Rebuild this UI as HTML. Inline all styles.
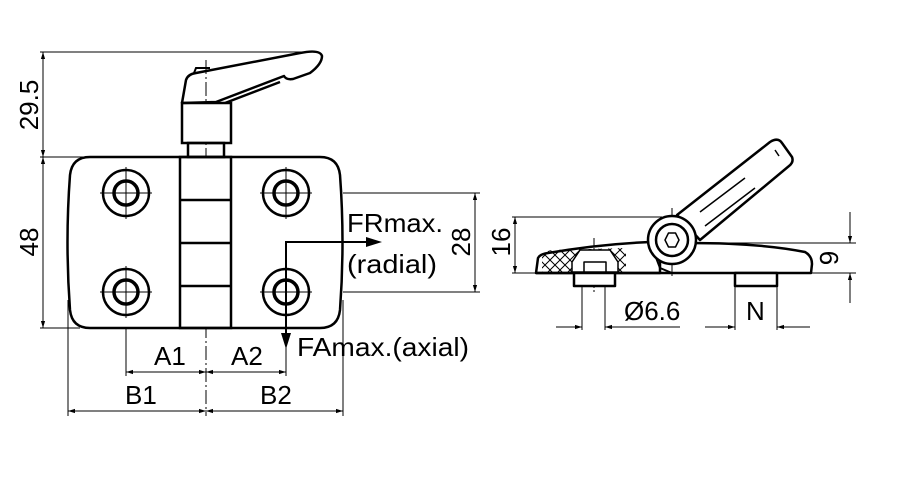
<!DOCTYPE html>
<html><head><meta charset="utf-8"><style>
html,body{margin:0;padding:0;background:#fff;}
svg{display:block;}
text{font-family:"Liberation Sans","DejaVu Sans",sans-serif;fill:#000;}
</style></head><body>
<svg width="908" height="483" viewBox="0 0 908 483" xmlns="http://www.w3.org/2000/svg">
<defs>
<marker id="a" viewBox="0 0 10 10" refX="10" refY="5" markerWidth="12" markerHeight="7" markerUnits="userSpaceOnUse" orient="auto-start-reverse"><path d="M0,2 L10,5 L0,8 z" fill="#000"/></marker>
<pattern id="h" width="10" height="10" patternUnits="userSpaceOnUse"><path d="M0,0 L10,10 M10,0 L0,10" stroke="#000" stroke-width="1"/></pattern>
</defs>
<g fill="none" stroke="#000" stroke-width="1">
<line x1="40" y1="52" x2="318" y2="52"/>
<line x1="40" y1="157" x2="90" y2="157"/>
<line x1="40" y1="328" x2="80" y2="328"/>
<line x1="343" y1="193" x2="480" y2="193"/>
<line x1="343" y1="292" x2="480" y2="292"/>
<line x1="68" y1="300" x2="68" y2="416"/>
<line x1="343" y1="300" x2="343" y2="416"/>
<line x1="126" y1="292" x2="126" y2="376"/>
<line x1="286" y1="300" x2="286" y2="376"/>
<line x1="206" y1="60" x2="206" y2="416" stroke-dasharray="14,3,2,3"/>
<line x1="43" y1="52" x2="43" y2="157" marker-start="url(#a)" marker-end="url(#a)"/>
<line x1="43" y1="157" x2="43" y2="328" marker-start="url(#a)" marker-end="url(#a)"/>
<line x1="475" y1="193" x2="475" y2="292" marker-start="url(#a)" marker-end="url(#a)"/>
<line x1="126" y1="372" x2="206" y2="372" marker-start="url(#a)" marker-end="url(#a)"/>
<line x1="206" y1="372" x2="286" y2="372" marker-start="url(#a)" marker-end="url(#a)"/>
<line x1="68" y1="411" x2="206" y2="411" marker-start="url(#a)" marker-end="url(#a)"/>
<line x1="206" y1="411" x2="343" y2="411" marker-start="url(#a)" marker-end="url(#a)"/>
</g>
<g fill="none" stroke="#000" stroke-width="2.5">
<path d="M90,157 L320,157 Q338,157 340,175 Q345,242 340,310 Q338,328 320,328 L90,328 Q72,328 70,310 Q65,242 70,175 Q72,157 90,157 Z" fill="#fff"/>
<rect x="180" y="157" width="51" height="171"/>
<line x1="180" y1="200" x2="231" y2="200"/>
<line x1="180" y1="243" x2="231" y2="243"/>
<line x1="180" y1="286" x2="231" y2="286"/>
<circle cx="126" cy="193" r="23"/><circle cx="126" cy="193" r="12" stroke-width="3.5"/>
<circle cx="286" cy="193" r="23"/><circle cx="286" cy="193" r="12" stroke-width="3.5"/>
<circle cx="126" cy="292" r="23"/><circle cx="126" cy="292" r="12" stroke-width="3.5"/>
<circle cx="286" cy="292" r="23"/><circle cx="286" cy="292" r="12" stroke-width="3.5"/>
<rect x="182" y="103" width="49" height="40" fill="#fff"/>
<rect x="188" y="143" width="36" height="14"/>
<path d="M182,103 L186,80 Q188,74 196,73 L300,53 Q320,49 322,56 Q322,64 310,73 L293,79 Q286,80 284,76 L216,102 Z" stroke-linejoin="round"/>
<path d="M194,73 L196,68 L210,68" stroke-width="2"/>
<path d="M225,103 L280,82"/>
</g>
<g stroke="#000" stroke-width="1" fill="none">
<line x1="100" y1="193" x2="152" y2="193"/><line x1="126" y1="167" x2="126" y2="219"/>
<line x1="260" y1="193" x2="312" y2="193"/><line x1="286" y1="167" x2="286" y2="219"/>
<line x1="100" y1="292" x2="152" y2="292"/><line x1="126" y1="266" x2="126" y2="318"/>
<line x1="260" y1="292" x2="312" y2="292"/>
</g>
<g stroke="#000" stroke-width="2" fill="none">
<polyline points="378,242 286,242 286,340"/>
</g>
<path d="M366,237 L382,242 L366,247 z" fill="#000"/>
<path d="M281,333 L286,349 L291,333 z" fill="#000"/>
<g font-size="26">
<text x="347" y="232" textLength="96" lengthAdjust="spacingAndGlyphs">FRmax.</text>
<text x="347" y="273" textLength="90" lengthAdjust="spacingAndGlyphs">(radial)</text>
<text x="297" y="356" textLength="172" lengthAdjust="spacingAndGlyphs">FAmax.(axial)</text>
<text x="154" y="365">A1</text>
<text x="231" y="365">A2</text>
<text x="125" y="404">B1</text>
<text x="260" y="404">B2</text>
<text transform="translate(38,105) rotate(-90)" text-anchor="middle">29.5</text>
<text transform="translate(38,242) rotate(-90)" text-anchor="middle">48</text>
<text transform="translate(470,242) rotate(-90)" text-anchor="middle">28</text>
<text transform="translate(510,242) rotate(-90)" text-anchor="middle">16</text>
<text transform="translate(838,258) rotate(-90)" text-anchor="middle">9</text>
<text x="624" y="320">Ø6.6</text>
<text x="746" y="320">N</text>
</g>
<g fill="none" stroke="#000" stroke-width="1">
<line x1="512" y1="217" x2="662" y2="217"/>
<line x1="512" y1="273" x2="540" y2="273"/>
<line x1="515" y1="217" x2="515" y2="273" marker-start="url(#a)" marker-end="url(#a)"/>
<line x1="700" y1="243" x2="856" y2="243"/>
<line x1="800" y1="273" x2="856" y2="273"/>
<line x1="850" y1="212" x2="850" y2="243" marker-end="url(#a)"/>
<line x1="850" y1="303" x2="850" y2="273" marker-end="url(#a)"/>
<line x1="582" y1="286" x2="582" y2="330"/><line x1="605" y1="286" x2="605" y2="330"/>
<line x1="556" y1="327" x2="582" y2="327" marker-end="url(#a)"/>
<line x1="680" y1="327" x2="605" y2="327" marker-end="url(#a)"/>
<line x1="735" y1="286" x2="735" y2="330"/><line x1="777" y1="286" x2="777" y2="330"/>
<line x1="705" y1="327" x2="735" y2="327" marker-end="url(#a)"/>
<line x1="810" y1="327" x2="777" y2="327" marker-end="url(#a)"/>
<line x1="594" y1="238" x2="594" y2="292" stroke-dasharray="8,2,2,2"/>
<line x1="672" y1="208" x2="672" y2="276" stroke-dasharray="8,2,2,2"/>
</g>
<g fill="none" stroke="#000" stroke-width="2.5" stroke-linejoin="round">
<path d="M542,256 Q545,251 552,250 L626,248 L626,272 L542,272 Z" fill="url(#h)" stroke="none"/>
<path d="M580,250 L610,250 L618,262 L618,272 L572,272 L572,262 Z" fill="#fff" stroke-width="1.5"/>
<path d="M584,262 L606,262 L606,272 L584,272 Z" fill="#fff" stroke-width="1.5"/>
<path d="M536,273 L538,258 Q540,254 548,253 Q600,244 650,242 L660,244 L660,273 Z"/>
<path d="M690,243 Q760,243 805,252 Q812,256 812,264 L811,273 L536,273"/>
<path d="M650,242 L660,268 L672,273" stroke-width="2"/>
<path d="M677,215 L770,142 Q778,137 782,143 L792,157 Q794,162 789,166 L700,240 Z" fill="#fff"/>
<path d="M745,178 L700,212 M755,188 L705,226" stroke-width="1.5"/>
<path d="M775,150 L779,156" stroke-width="1.5"/>
<circle cx="672" cy="240" r="24" fill="#fff"/>
<circle cx="672" cy="240" r="16"/>
<path d="M665,240 L668.5,233 L675.5,233 L679,240 L675.5,247 L668.5,247 Z" stroke-width="1.5"/>
<rect x="574" y="273" width="41" height="13" fill="#fff"/>
<rect x="735" y="273" width="42" height="13" fill="#fff"/>
</g>
</svg>
</body></html>
